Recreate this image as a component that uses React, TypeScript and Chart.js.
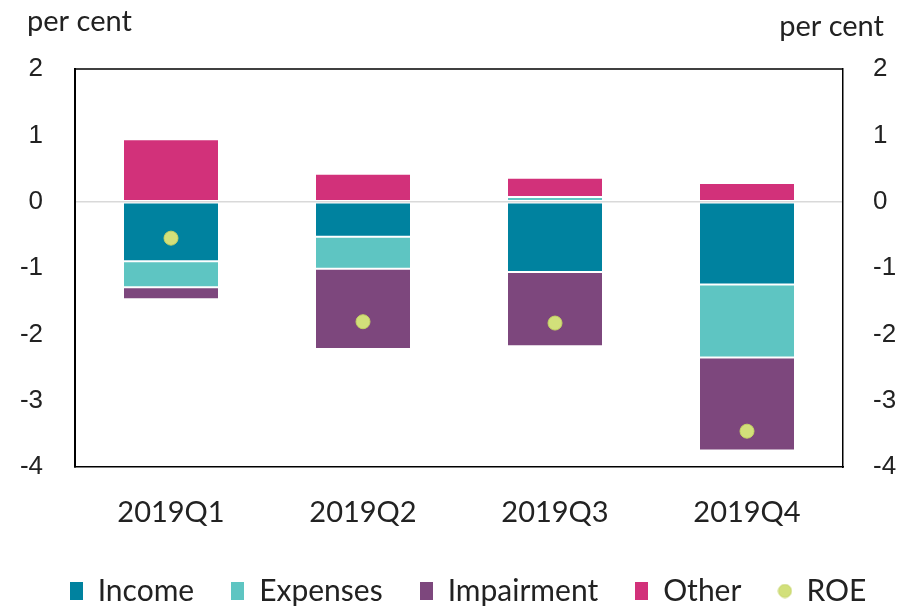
import React, { useEffect, useRef } from "react";
import { Chart, registerables } from "chart.js";

Chart.register(...registerables);

const categories = ["2019Q1", "2019Q2", "2019Q3", "2019Q4"];
const income = [-0.9, -0.53, -1.06, -1.25];
const expenses = [-0.39, -0.48, 0.07, -1.1];
const impairment = [-0.18, -1.21, -1.12, -1.4];
const other = [0.94, 0.42, 0.29, 0.28];
const roe = [-0.55, -1.81, -1.83, -3.46];
const yTicks = [2, 1, 0, -1, -2, -3, -4];
const axisTitle = "per cent";

const COLORS = {
  income: "#00829f",
  expenses: "#5ec5c2",
  impairment: "#7d477d",
  other: "#d2317a",
  roe: "#d2e07a",
};

const LATO = "Lato, 'Noto Sans', sans-serif";
const ARIAL = "'Liberation Sans', Arial, sans-serif";

function rectImage(color: string) {
  const c = document.createElement("canvas");
  c.width = 13;
  c.height = 18;
  const g = c.getContext("2d")!;
  g.fillStyle = color;
  g.fillRect(0, 0, 13, 18);
  return c;
}

function circleImage(color: string) {
  const c = document.createElement("canvas");
  c.width = 15;
  c.height = 15;
  const g = c.getContext("2d")!;
  g.fillStyle = color;
  g.beginPath();
  g.arc(7.5, 7.5, 6.5, 0, Math.PI * 2);
  g.fill();
  g.strokeStyle = "#c3d264";
  g.lineWidth = 1;
  g.stroke();
  return c;
}

const decorPlugin = {
  id: "decor",
  afterInit(chart: any) {
    const lg = chart.legend;
    if (lg && !lg.__patched) {
      const orig = lg.fit.bind(lg);
      lg.fit = function () {
        orig();
        this.height = 70;
      };
      lg.__patched = true;
    }
  },
  afterLayout(chart: any) {
    const lg = chart.legend;
    if (lg) {
      lg.left += 12;
      lg.right += 12;
    }
  },
  afterDraw(chart: any) {
    const { ctx, chartArea } = chart;
    ctx.save();
    ctx.strokeStyle = "#000";
    ctx.lineWidth = 1.5;
    ctx.beginPath();
    ctx.moveTo(chartArea.left, chartArea.top);
    ctx.lineTo(chartArea.right, chartArea.top);
    ctx.stroke();
    ctx.fillStyle = "#222";
    ctx.font = `29px ${LATO}`;
    ctx.textBaseline = "middle";
    ctx.textAlign = "left";
    ctx.fillText(axisTitle, 27, 22);
    ctx.textAlign = "right";
    ctx.fillText(axisTitle, 884, 27);
    ctx.restore();
  },
};

export default function App() {
  const ref = useRef<HTMLCanvasElement | null>(null);

  useEffect(() => {
    if (!ref.current) return;
    const barDs = (label: string, data: number[], color: string) => ({
      type: "bar" as const,
      label,
      data,
      backgroundColor: color,
      borderColor: "rgba(255,255,255,0.25)",
      borderWidth: 1,
      borderSkipped: false,
      stack: "s",
      barPercentage: 0.5,
      categoryPercentage: 1,
      yAxisID: "y",
      order: 1,
    });
    const chart = new Chart(ref.current, {
      type: "bar",
      data: {
        labels: categories,
        datasets: [
          barDs("Income", income, COLORS.income),
          barDs("Expenses", expenses, COLORS.expenses),
          barDs("Impairment", impairment, COLORS.impairment),
          barDs("Other", other, COLORS.other),
          {
            type: "line" as const,
            label: "ROE",
            data: roe,
            showLine: false,
            pointRadius: 7,
            pointBackgroundColor: COLORS.roe,
            pointBorderColor: "#c3d264",
            pointBorderWidth: 1,
            yAxisID: "y",
            order: -1,
          } as any,
        ],
      },
      options: {
        animation: false,
        responsive: false,
        maintainAspectRatio: false,
        layout: { padding: { top: 69, left: 0, right: 0, bottom: 0 } },
        plugins: {
          tooltip: { enabled: false },
          legend: {
            position: "bottom",
            labels: {
              usePointStyle: true,
              boxWidth: 13,
              boxHeight: 18,
              padding: 37,
              color: "#222",
              font: { family: LATO, size: 30 },
              generateLabels: (ch: any) =>
                ch.data.datasets.map((ds: any, i: number) => ({
                  text: ds.label,
                  datasetIndex: i,
                  fillStyle: ds.backgroundColor || ds.pointBackgroundColor,
                  strokeStyle: "transparent",
                  lineWidth: 0,
                  hidden: false,
                  fontColor: "#222",
                  pointStyle:
                    ds.type === "line"
                      ? circleImage(COLORS.roe)
                      : rectImage(ds.backgroundColor),
                })),
            },
          },
        },
        scales: {
          x: {
            stacked: true,
            grid: { display: false, drawTicks: false },
            border: { display: true, color: "#000", width: 1.5 },
            ticks: {
              color: "#222",
              font: { family: LATO, size: 29 },
              padding: 28,
              maxRotation: 0,
            },
            afterFit: (s: any) => {
              s.height = 72;
            },
          },
          y: {
            stacked: true,
            position: "left",
            min: -4,
            max: 2,
            afterBuildTicks: (s: any) => {
              s.ticks = yTicks.map((v) => ({ value: v }));
            },
            grid: {
              drawTicks: false,
              color: (c: any) => (c.tick && c.tick.value === 0 ? "#d9d9d9" : "rgba(0,0,0,0)"),
              lineWidth: 1.5,
            },
            border: { display: true, color: "#000", width: 2 },
            ticks: {
              color: "#222",
              font: { family: ARIAL, size: 26 },
              padding: 32,
            },
            afterFit: (s: any) => {
              s.width = 75;
            },
          },
          y2: {
            position: "right",
            min: -4,
            max: 2,
            afterBuildTicks: (s: any) => {
              s.ticks = yTicks.map((v) => ({ value: v }));
            },
            grid: { display: false, drawTicks: false },
            border: { display: true, color: "#000", width: 1.5 },
            ticks: {
              color: "#222",
              font: { family: ARIAL, size: 26 },
              padding: 30,
            },
            afterFit: (s: any) => {
              s.width = 69;
            },
          },
        },
      },
      plugins: [decorPlugin],
    });
    return () => chart.destroy();
  }, []);

  return (
    <div style={{ position: "fixed", left: 0, top: 0, width: 912, height: 609, background: "#fff" }}>
      <canvas ref={ref} width={912} height={609} style={{ width: 912, height: 609 }} />
    </div>
  );
}
